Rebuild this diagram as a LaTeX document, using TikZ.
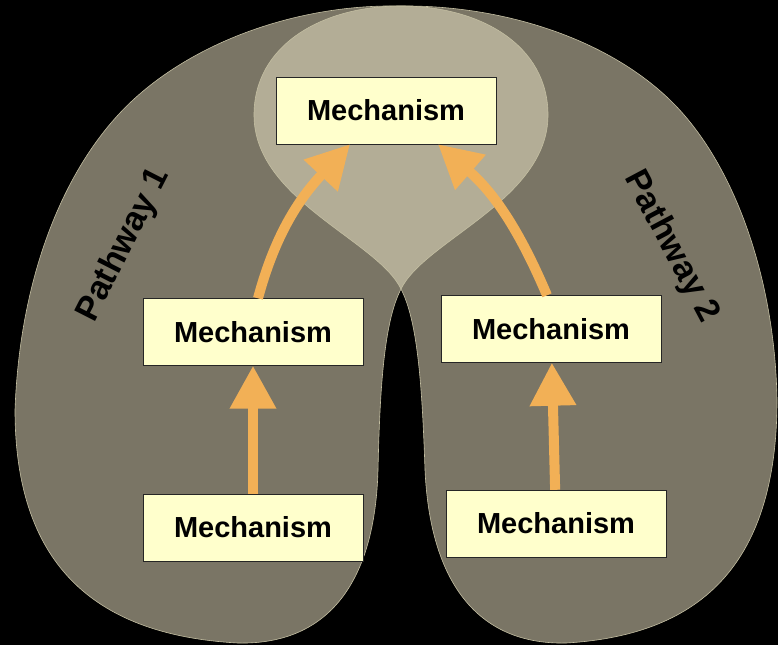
\documentclass[tikz,border=0pt]{standalone}
\usepackage{fontspec}
\setmainfont{Liberation Sans}
\usetikzlibrary{arrows.meta}
\definecolor{lobegray}{HTML}{7A7565}
\definecolor{lobelight}{HTML}{B3AD96}
\definecolor{lobeedge}{HTML}{C4BFA2}
\definecolor{boxfill}{HTML}{FFFFCC}
\definecolor{flow}{HTML}{F2B056}
\def\leftlobe{(401,6) .. controls (300,4) and (198,40) .. (133,100) .. controls (68,160) and (20,270) .. (15,410) .. controls (15,560) and (90,635) .. (238,643) .. controls (330,645) and (375,580) .. (378,470) .. controls (380,380) and (385,320) .. (401,289) .. controls (425,240) and (548,200) .. (548,115) .. controls (548,45) and (480,6) .. (401,6) -- cycle}
\def\rightlobe{(401,6) .. controls (500,5) and (605,37) .. (670,100) .. controls (735,163) and (775,280) .. (777,400) .. controls (777,560) and (705,635) .. (566,643) .. controls (476,645) and (430,580) .. (425,470) .. controls (422,380) and (417,320) .. (401,289) .. controls (377,240) and (254,200) .. (254,115) .. controls (254,45) and (322,6) .. (401,6) -- cycle}
\tikzset{
  mechbox/.style={draw=black!85, fill=boxfill, minimum width=220pt, minimum height=67pt, inner sep=0pt, font=\fontsize{29}{34}\selectfont\bfseries},
  pathlabel/.style={font=\fontsize{34}{40}\selectfont\bfseries},
  flowarrow/.style={draw=flow, line width=10pt, -{Triangle[length=43pt,width=44pt]}},
  lobe/.style={fill=lobegray}
}

\begin{document}
\begin{tikzpicture}[x=1pt,y=-1pt]
		% background and the two lobes
		\fill[black] (0,0) rectangle (778,645);
		\useasboundingbox (0,0) rectangle (778,645);
		
		\path[lobe] \leftlobe;
		\path[lobe] \rightlobe;
		\begin{scope}
			\clip \leftlobe;
			\fill[lobelight] \rightlobe;
		\end{scope}
		\draw[lobeedge, line width=0.6pt] \leftlobe;
		\draw[lobeedge, line width=0.6pt] \rightlobe;
		
		% mechanisms
		\node[mechbox] (top) at (386,110.5) {Mechanism};
		\node[mechbox] (leftmid) at (253,332) {Mechanism};
		\node[mechbox] (leftbot) at (253,527.5) {Mechanism};
		\node[mechbox] (rightmid) at (551,329) {Mechanism};
		\node[mechbox] (rightbot) at (556,523.5) {Mechanism};
		
		% arrows
		\draw[flowarrow] (leftbot) -- (leftmid);
		\draw[flowarrow] (rightbot) -- (rightmid);
		\draw[flowarrow] ([xshift=5pt]leftmid.north) to[out=75,in=227] ([xshift=-36pt]top.south);
		\draw[flowarrow] ([xshift=-4pt]rightmid.north) to[out=113,in=-41] ([xshift=52pt]top.south);
		
		% pathway labels
		\node[pathlabel, rotate=63] (path1) at (124,245) {Pathway 1};
		\node[pathlabel, rotate=-62] (path2) at (671,247) {Pathway 2};
	\end{tikzpicture}
\end{document}
